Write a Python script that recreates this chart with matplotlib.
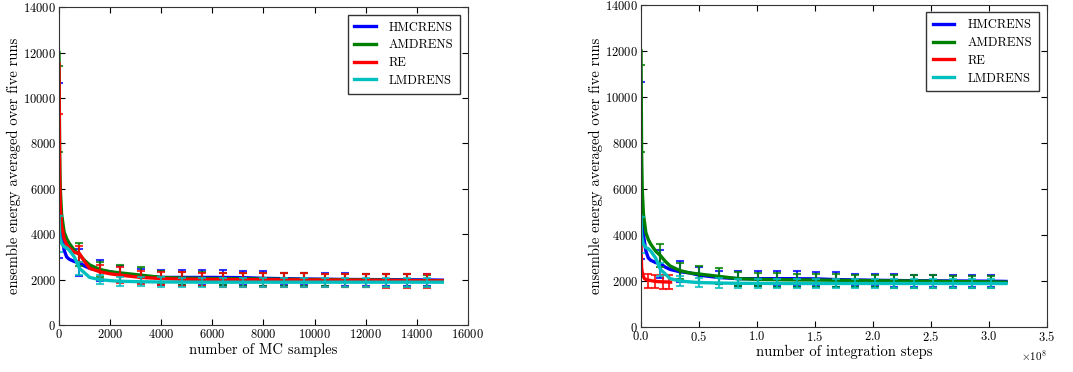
import numpy as np
import matplotlib
matplotlib.use("Agg")
import matplotlib.pyplot as plt

plt.rcParams['font.family'] = ['cmr10', 'DejaVu Serif']
plt.rcParams['mathtext.fontset'] = 'cm'
plt.rcParams['axes.formatter.use_mathtext'] = True
plt.rcParams['axes.unicode_minus'] = False

# mean ensemble energy (five runs) against MC samples
samples = np.array([0, 25, 50, 100, 200, 300, 400, 600, 800, 1000, 1200, 1600, 2000,
                    2400, 3200, 4000, 4800, 6000, 7200, 8000, 9600, 11200, 12800, 14400, 15000])
hmc_mean = [6800, 5200, 4600, 4000, 3300, 3000, 2900, 2800, 2750, 2600, 2500, 2400, 2350,
            2250, 2150, 2100, 2100, 2100, 2090, 2060, 2030, 2010, 2000, 1990, 1980]
amd_mean = [12000, 7500, 6000, 4900, 4100, 3800, 3600, 3300, 3100, 2850, 2650, 2450, 2350,
            2300, 2200, 2100, 2070, 2050, 2040, 2030, 2010, 2000, 1980, 1960, 1950]
re_mean = [11500, 6500, 5200, 4400, 3800, 3550, 3400, 3200, 3150, 2800, 2500, 2350, 2260,
           2200, 2100, 2050, 2020, 2010, 2000, 2000, 1990, 1980, 1970, 1950, 1950]
lmd_mean = [4800, 4000, 3800, 3600, 3450, 3400, 3300, 3000, 2500, 2300, 2100, 2000, 1960,
            1930, 1910, 1900, 1895, 1890, 1890, 1890, 1890, 1890, 1890, 1890, 1890]

# error bars every 800 samples
eb_samples = np.arange(0, 15000, 800)
hmc_eb = [6800, 2750, 2400, 2250, 2150, 2100, 2100, 2100, 2100, 2080, 2060, 2040, 2030, 2010, 2000, 2000, 1990, 1990, 1980]
hmc_err = [3850, 600, 450, 350, 300, 330, 320, 330, 320, 320, 330, 270, 270, 280, 280, 270, 270, 270, 260]
amd_eb = [9500, 3100, 2450, 2300, 2200, 2100, 2060, 2040, 2030, 2020, 2010, 2000, 2000, 1990, 1980, 1970, 1960, 1960, 1950]
amd_err = [1900, 500, 350, 350, 350, 300, 300, 300, 280, 280, 280, 280, 280, 280, 280, 270, 270, 270, 270]
re_eb = [7000, 3150, 2350, 2200, 2100, 2050, 2020, 2010, 2000, 2000, 1990, 1980, 1980, 1970, 1960, 1960, 1950, 1950, 1950]
re_err = [2300, 350, 300, 350, 300, 300, 300, 300, 300, 300, 300, 300, 300, 300, 300, 300, 300, 300, 300]
lmd_eb = [4000, 2500, 2000, 1930, 1910, 1900, 1890, 1890, 1890, 1890, 1890, 1890, 1890, 1890, 1890, 1890, 1890, 1890, 1890]
lmd_err = [800, 300, 200, 200, 200, 200, 200, 200, 200, 200, 200, 200, 200, 200, 200, 200, 200, 200, 200]

# integration steps per MC sample for the ensemble methods
steps_per_sample = 21000

# plain replica exchange in integration steps
re_steps = np.array([0, 0.002, 0.005, 0.01, 0.02, 0.03, 0.05, 0.1, 0.15, 0.2, 0.255]) * 1e8
re_steps_mean = [4000, 3200, 2600, 2400, 2200, 2100, 2050, 2000, 1970, 1960, 1950]
re_eb_steps = np.array([0.06, 0.125, 0.19, 0.245]) * 1e8
re_eb_steps_mean = [2000, 1980, 1960, 1950]
re_eb_steps_err = [300, 300, 300, 300]

labels = ['HMCRENS', 'AMDRENS', 'RE', 'LMDRENS']
colors = ['b', 'g', 'r', 'c']


def style_axes(ax, xlabel):
    ax.set_ylim(0, 14000)
    ax.set_xlabel(xlabel, fontsize=10.5, labelpad=1)
    ax.set_ylabel('ensemble energy averaged over five runs', fontsize=10.5, labelpad=2)
    ax.tick_params(direction='in', top=True, right=True, length=4, labelsize=9, pad=2)
    for s in ax.spines.values():
        s.set_color('#333333')
    leg = ax.legend(loc='upper right', fontsize=9, fancybox=False, edgecolor='black',
                    handlelength=1.7, handletextpad=1.05, borderpad=0.55,
                    borderaxespad=0.6, labelspacing=0.45)
    leg.get_frame().set_linewidth(1.0)


fig = plt.figure(figsize=(10.73, 3.72), dpi=100)
ax1 = fig.add_axes([0.055, 0.126, 0.381, 0.855])
ax2 = fig.add_axes([0.5974, 0.121, 0.378, 0.866])

left_lines = [hmc_mean, amd_mean, re_mean, lmd_mean]
left_eb = [(hmc_eb, hmc_err), (amd_eb, amd_err), (re_eb, re_err), (lmd_eb, lmd_err)]

for y, (m, e), c, lab in zip(left_lines, left_eb, colors, labels):
    ax1.plot(samples, y, color=c, lw=2.4, label=lab)
    ax1.errorbar(eb_samples, m, yerr=e, fmt='none', ecolor=c, elinewidth=1.5,
                 capsize=3, capthick=1.5, alpha=0.8)
ax1.set_xlim(0, 16000)
style_axes(ax1, 'number of MC samples')

for y, (m, e), c, lab in zip(left_lines, left_eb, colors, labels):
    if lab == 'RE':
        ax2.plot(re_steps, re_steps_mean, color=c, lw=2.4, label=lab)
        ax2.errorbar(re_eb_steps, re_eb_steps_mean, yerr=re_eb_steps_err, fmt='none',
                     ecolor=c, elinewidth=1.5, capsize=3, capthick=1.5, alpha=0.8)
    else:
        ax2.plot(samples * steps_per_sample, y, color=c, lw=2.4, label=lab)
        ax2.errorbar(eb_samples * steps_per_sample, m, yerr=e, fmt='none', ecolor=c,
                     elinewidth=1.5, capsize=3, capthick=1.5, alpha=0.8)
ax2.set_xlim(0, 3.5e8)
style_axes(ax2, 'number of integration steps')
ax2.xaxis.get_offset_text().set_fontsize(8)

fig.savefig('out.png', dpi=100)
